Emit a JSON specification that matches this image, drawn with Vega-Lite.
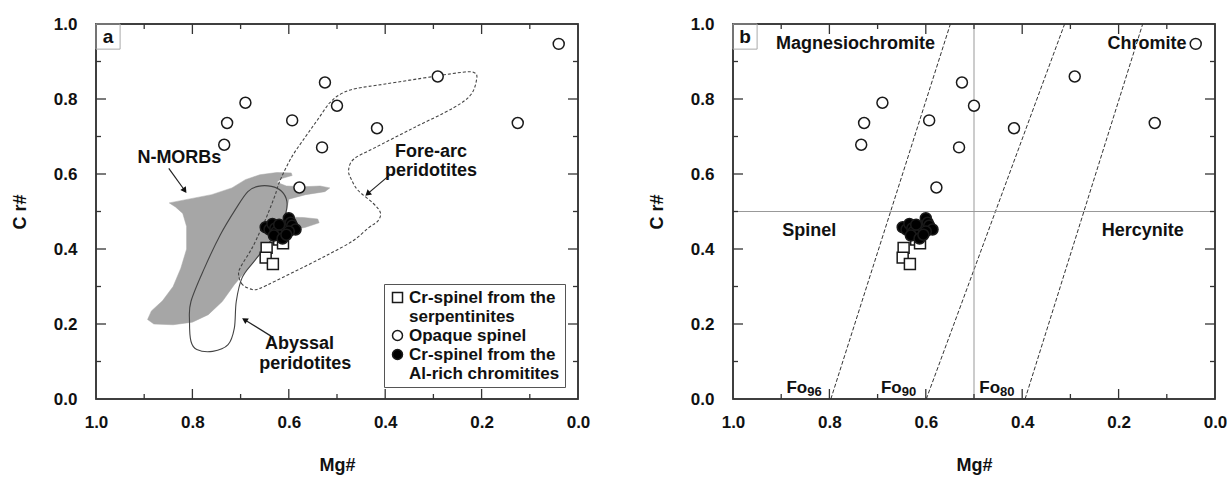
{
  "$schema": "https://vega.github.io/schema/vega-lite/v6.json",
  "padding": {"left": 10, "top": 14, "right": 0, "bottom": 0},
  "background": "white",
  "bounds": "flush",
  "spacing": 155,
  "config": {
    "font": "Liberation Sans",
    "view": {"stroke": "#333", "strokeWidth": 1.5},
    "axis": {"grid": false, "domain": false, "ticks": false, "labelFontSize": 17, "labelFontWeight": "bold", "labelColor": "#111", "titleFontSize": 18, "titleFontWeight": "bold", "titleColor": "#111", "format": ".1f", "labelFlush": false},
    "text": {"font": "Liberation Sans", "fontWeight": "bold", "fontSize": 18, "fill": "#111"}
  },
  "datasets": {
    "morb": [
      {"i": 1, "Mg": 0.848, "Cr": 0.523}, {"i": 2, "Mg": 0.8, "Cr": 0.535}, {"i": 3, "Mg": 0.76, "Cr": 0.545}, {"i": 4, "Mg": 0.718, "Cr": 0.563},
      {"i": 5, "Mg": 0.69, "Cr": 0.585}, {"i": 6, "Mg": 0.66, "Cr": 0.598}, {"i": 7, "Mg": 0.625, "Cr": 0.604}, {"i": 8, "Mg": 0.595, "Cr": 0.603},
      {"i": 9, "Mg": 0.593, "Cr": 0.596}, {"i": 10, "Mg": 0.615, "Cr": 0.588}, {"i": 11, "Mg": 0.625, "Cr": 0.578}, {"i": 12, "Mg": 0.605, "Cr": 0.568},
      {"i": 13, "Mg": 0.57, "Cr": 0.566}, {"i": 14, "Mg": 0.535, "Cr": 0.568}, {"i": 15, "Mg": 0.515, "Cr": 0.563}, {"i": 16, "Mg": 0.525, "Cr": 0.553},
      {"i": 17, "Mg": 0.565, "Cr": 0.545}, {"i": 18, "Mg": 0.6, "Cr": 0.533}, {"i": 19, "Mg": 0.605, "Cr": 0.5}, {"i": 20, "Mg": 0.6, "Cr": 0.485},
      {"i": 21, "Mg": 0.57, "Cr": 0.484}, {"i": 22, "Mg": 0.54, "Cr": 0.48}, {"i": 23, "Mg": 0.537, "Cr": 0.47}, {"i": 24, "Mg": 0.565, "Cr": 0.458},
      {"i": 25, "Mg": 0.605, "Cr": 0.447}, {"i": 26, "Mg": 0.625, "Cr": 0.425}, {"i": 27, "Mg": 0.66, "Cr": 0.385}, {"i": 28, "Mg": 0.69, "Cr": 0.34},
      {"i": 29, "Mg": 0.713, "Cr": 0.305}, {"i": 30, "Mg": 0.738, "Cr": 0.26}, {"i": 31, "Mg": 0.767, "Cr": 0.225}, {"i": 32, "Mg": 0.8, "Cr": 0.205},
      {"i": 33, "Mg": 0.84, "Cr": 0.198}, {"i": 34, "Mg": 0.88, "Cr": 0.2}, {"i": 35, "Mg": 0.893, "Cr": 0.212}, {"i": 36, "Mg": 0.885, "Cr": 0.235},
      {"i": 37, "Mg": 0.862, "Cr": 0.262}, {"i": 38, "Mg": 0.84, "Cr": 0.3}, {"i": 39, "Mg": 0.824, "Cr": 0.349}, {"i": 40, "Mg": 0.812, "Cr": 0.4},
      {"i": 41, "Mg": 0.812, "Cr": 0.46}, {"i": 42, "Mg": 0.82, "Cr": 0.495}, {"i": 43, "Mg": 0.835, "Cr": 0.512}
    ],
    "abyssal": [
      {"i": 1, "Mg": 0.664, "Cr": 0.567}, {"i": 2, "Mg": 0.636, "Cr": 0.567}, {"i": 3, "Mg": 0.615, "Cr": 0.554}, {"i": 4, "Mg": 0.604, "Cr": 0.527},
      {"i": 5, "Mg": 0.607, "Cr": 0.492}, {"i": 6, "Mg": 0.623, "Cr": 0.447}, {"i": 7, "Mg": 0.644, "Cr": 0.412}, {"i": 8, "Mg": 0.672, "Cr": 0.367},
      {"i": 9, "Mg": 0.697, "Cr": 0.323}, {"i": 10, "Mg": 0.709, "Cr": 0.26}, {"i": 11, "Mg": 0.713, "Cr": 0.189}, {"i": 12, "Mg": 0.726, "Cr": 0.145},
      {"i": 13, "Mg": 0.758, "Cr": 0.127}, {"i": 14, "Mg": 0.791, "Cr": 0.132}, {"i": 15, "Mg": 0.803, "Cr": 0.154}, {"i": 16, "Mg": 0.806, "Cr": 0.207},
      {"i": 17, "Mg": 0.803, "Cr": 0.26}, {"i": 18, "Mg": 0.775, "Cr": 0.349}, {"i": 19, "Mg": 0.742, "Cr": 0.438}, {"i": 20, "Mg": 0.709, "Cr": 0.509},
      {"i": 21, "Mg": 0.685, "Cr": 0.553}
    ],
    "forearc": [
      {"i": 1, "Mg": 0.676, "Cr": 0.292}, {"i": 2, "Mg": 0.696, "Cr": 0.305}, {"i": 3, "Mg": 0.704, "Cr": 0.33}, {"i": 4, "Mg": 0.7, "Cr": 0.352},
      {"i": 5, "Mg": 0.676, "Cr": 0.403}, {"i": 6, "Mg": 0.655, "Cr": 0.46}, {"i": 7, "Mg": 0.644, "Cr": 0.492}, {"i": 8, "Mg": 0.628, "Cr": 0.545},
      {"i": 9, "Mg": 0.619, "Cr": 0.58}, {"i": 10, "Mg": 0.595, "Cr": 0.643}, {"i": 11, "Mg": 0.565, "Cr": 0.7}, {"i": 12, "Mg": 0.54, "Cr": 0.745},
      {"i": 13, "Mg": 0.515, "Cr": 0.79}, {"i": 14, "Mg": 0.49, "Cr": 0.815}, {"i": 15, "Mg": 0.46, "Cr": 0.828}, {"i": 16, "Mg": 0.4, "Cr": 0.84},
      {"i": 17, "Mg": 0.3, "Cr": 0.86}, {"i": 18, "Mg": 0.235, "Cr": 0.872}, {"i": 19, "Mg": 0.215, "Cr": 0.87}, {"i": 20, "Mg": 0.21, "Cr": 0.855},
      {"i": 21, "Mg": 0.222, "Cr": 0.812}, {"i": 22, "Mg": 0.259, "Cr": 0.776}, {"i": 23, "Mg": 0.341, "Cr": 0.723}, {"i": 24, "Mg": 0.423, "Cr": 0.669},
      {"i": 25, "Mg": 0.465, "Cr": 0.64}, {"i": 26, "Mg": 0.476, "Cr": 0.61}, {"i": 27, "Mg": 0.47, "Cr": 0.585}, {"i": 28, "Mg": 0.456, "Cr": 0.556},
      {"i": 29, "Mg": 0.425, "Cr": 0.522}, {"i": 30, "Mg": 0.41, "Cr": 0.497}, {"i": 31, "Mg": 0.415, "Cr": 0.475}, {"i": 32, "Mg": 0.434, "Cr": 0.457},
      {"i": 33, "Mg": 0.468, "Cr": 0.421}, {"i": 34, "Mg": 0.517, "Cr": 0.386}, {"i": 35, "Mg": 0.572, "Cr": 0.35}, {"i": 36, "Mg": 0.627, "Cr": 0.315},
      {"i": 37, "Mg": 0.66, "Cr": 0.295}
    ],
    "pts": [
      {"type": "Cr-spinel from the serpentinites", "Mg": 0.62, "Cr": 0.425},
      {"type": "Cr-spinel from the serpentinites", "Mg": 0.646, "Cr": 0.403},
      {"type": "Cr-spinel from the serpentinites", "Mg": 0.648, "Cr": 0.377},
      {"type": "Cr-spinel from the serpentinites", "Mg": 0.633, "Cr": 0.36},
      {"type": "Cr-spinel from the serpentinites", "Mg": 0.612, "Cr": 0.415},
      {"type": "Opaque spinel", "Mg": 0.04, "Cr": 0.947},
      {"type": "Opaque spinel", "Mg": 0.291, "Cr": 0.86},
      {"type": "Opaque spinel", "Mg": 0.525, "Cr": 0.844},
      {"type": "Opaque spinel", "Mg": 0.69, "Cr": 0.79},
      {"type": "Opaque spinel", "Mg": 0.5, "Cr": 0.782},
      {"type": "Opaque spinel", "Mg": 0.728, "Cr": 0.736},
      {"type": "Opaque spinel", "Mg": 0.593, "Cr": 0.743},
      {"type": "Opaque spinel", "Mg": 0.417, "Cr": 0.722},
      {"type": "Opaque spinel", "Mg": 0.125, "Cr": 0.736},
      {"type": "Opaque spinel", "Mg": 0.734, "Cr": 0.678},
      {"type": "Opaque spinel", "Mg": 0.531, "Cr": 0.671},
      {"type": "Opaque spinel", "Mg": 0.578, "Cr": 0.564},
      {"type": "Cr-spinel from the Al-rich chromitites", "Mg": 0.648, "Cr": 0.458},
      {"type": "Cr-spinel from the Al-rich chromitites", "Mg": 0.64, "Cr": 0.452},
      {"type": "Cr-spinel from the Al-rich chromitites", "Mg": 0.634, "Cr": 0.467},
      {"type": "Cr-spinel from the Al-rich chromitites", "Mg": 0.628, "Cr": 0.455},
      {"type": "Cr-spinel from the Al-rich chromitites", "Mg": 0.626, "Cr": 0.445},
      {"type": "Cr-spinel from the Al-rich chromitites", "Mg": 0.617, "Cr": 0.437},
      {"type": "Cr-spinel from the Al-rich chromitites", "Mg": 0.631, "Cr": 0.436},
      {"type": "Cr-spinel from the Al-rich chromitites", "Mg": 0.613, "Cr": 0.428},
      {"type": "Cr-spinel from the Al-rich chromitites", "Mg": 0.606, "Cr": 0.457},
      {"type": "Cr-spinel from the Al-rich chromitites", "Mg": 0.6, "Cr": 0.482},
      {"type": "Cr-spinel from the Al-rich chromitites", "Mg": 0.596, "Cr": 0.47},
      {"type": "Cr-spinel from the Al-rich chromitites", "Mg": 0.593, "Cr": 0.462},
      {"type": "Cr-spinel from the Al-rich chromitites", "Mg": 0.586, "Cr": 0.452},
      {"type": "Cr-spinel from the Al-rich chromitites", "Mg": 0.6, "Cr": 0.447},
      {"type": "Cr-spinel from the Al-rich chromitites", "Mg": 0.605, "Cr": 0.438},
      {"type": "Cr-spinel from the Al-rich chromitites", "Mg": 0.62, "Cr": 0.465}
    ],
    "textA": [
      {"Mg": 0.827, "Cr": 0.643, "label": "N-MORBs"},
      {"Mg": 0.305, "Cr": 0.659, "label": "Fore-arc"},
      {"Mg": 0.305, "Cr": 0.607, "label": "peridotites"},
      {"Mg": 0.578, "Cr": 0.147, "label": "Abyssal"},
      {"Mg": 0.566, "Cr": 0.093, "label": "peridotites"}
    ],
    "arrowsA": [
      {"target": "N-MORBs", "Mg": 0.849, "Cr": 0.615, "Mg2": 0.817, "Cr2": 0.558},
      {"target": "Fore-arc", "Mg": 0.389, "Cr": 0.599, "Mg2": 0.435, "Cr2": 0.549},
      {"target": "Abyssal", "Mg": 0.636, "Cr": 0.167, "Mg2": 0.69, "Cr2": 0.21}
    ],
    "textB": [
      {"Mg": 0.746, "Cr": 0.948, "label": "Magnesiochromite"},
      {"Mg": 0.141, "Cr": 0.948, "label": "Chromite"},
      {"Mg": 0.842, "Cr": 0.447, "label": "Spinel"},
      {"Mg": 0.15, "Cr": 0.447, "label": "Hercynite"}
    ],
    "foLabels": [
      {"Mg": 0.846, "Cr": 0.03, "sub": "96"},
      {"Mg": 0.65, "Cr": 0.03, "sub": "90"},
      {"Mg": 0.446, "Cr": 0.03, "sub": "80"}
    ],
    "foLines": [
      {"line": "Fo96", "Mg": 0.797, "Cr": 0, "Mg2": 0.549, "Cr2": 1},
      {"line": "Fo90", "Mg": 0.599, "Cr": 0, "Mg2": 0.312, "Cr2": 1},
      {"line": "Fo80", "Mg": 0.394, "Cr": 0, "Mg2": 0.15, "Cr2": 1}
    ],
    "refLines": [
      {"Mg": 1, "Cr": 0.5, "Mg2": 0, "Cr2": 0.5},
      {"Mg": 0.5, "Cr": 0, "Mg2": 0.5, "Cr2": 1}
    ],
    "frame": [
      {"dir": "h", "Mg": 1, "Cr": 0, "Mg2": 0, "Cr2": 0},
      {"dir": "h", "Mg": 1, "Cr": 1, "Mg2": 0, "Cr2": 1},
      {"dir": "v", "Mg": 1, "Cr": 0, "Mg2": 1, "Cr2": 1},
      {"dir": "v", "Mg": 0, "Cr": 0, "Mg2": 0, "Cr2": 1}
    ],
    "ticks": [
      {"pos": 0.1, "kind": "minor"}, {"pos": 0.2, "kind": "major"}, {"pos": 0.3, "kind": "minor"}, {"pos": 0.4, "kind": "major"},
      {"pos": 0.5, "kind": "minor"}, {"pos": 0.6, "kind": "major"}, {"pos": 0.7, "kind": "minor"}, {"pos": 0.8, "kind": "major"},
      {"pos": 0.9, "kind": "minor"}
    ],
    "one": [{}]
  },
  "hconcat": [
    {
      "width": 482,
      "height": 375,
      "layer": [
        {
          "data": {"name": "morb"},
          "mark": {"type": "line", "interpolate": "linear-closed", "fill": "#a6a6a6", "stroke": "#a6a6a6", "strokeWidth": 0.5},
          "encoding": {
            "x": {"field": "Mg", "type": "quantitative", "scale": {"domain": [0, 1], "reverse": true, "nice": false},
              "axis": {"orient": "bottom", "values": [0, 0.2, 0.4, 0.6, 0.8, 1], "labelPadding": 15, "title": "Mg#", "titlePadding": 26}},
            "y": {"field": "Cr", "type": "quantitative", "scale": {"domain": [0, 1], "nice": false},
              "axis": {"orient": "left", "values": [0, 0.2, 0.4, 0.6, 0.8, 1], "labelPadding": 19, "title": "C r#", "titlePadding": 24}},
            "order": {"field": "i", "type": "quantitative"}
          }
        },
        {
          "data": {"name": "abyssal"},
          "mark": {"type": "line", "interpolate": "cardinal-closed", "stroke": "#444", "strokeWidth": 1.1},
          "encoding": {
            "x": {"field": "Mg", "type": "quantitative"},
            "y": {"field": "Cr", "type": "quantitative"},
            "order": {"field": "i", "type": "quantitative"}
          }
        },
        {
          "data": {"name": "forearc"},
          "mark": {"type": "line", "interpolate": "cardinal-closed", "stroke": "#444", "strokeWidth": 1.1, "strokeDash": [3, 2]},
          "encoding": {
            "x": {"field": "Mg", "type": "quantitative"},
            "y": {"field": "Cr", "type": "quantitative"},
            "order": {"field": "i", "type": "quantitative"}
          }
        },
        {
          "data": {"name": "frame"},
          "transform": [{"filter": "datum.dir == 'h'"}],
          "mark": {"type": "rect", "color": "#333", "opacity": 1, "xOffset": -0.75, "x2Offset": 0.75, "yOffset": -0.75, "y2Offset": 0.75},
          "encoding": {
            "x": {"field": "Mg", "type": "quantitative"},
            "y": {"field": "Cr", "type": "quantitative"},
            "x2": {"field": "Mg2"},
            "y2": {"field": "Cr2"}
          }
        },
        {
          "data": {"name": "frame"},
          "transform": [{"filter": "datum.dir == 'v'"}],
          "mark": {"type": "rect", "color": "#333", "opacity": 1, "xOffset": -0.75, "x2Offset": 0.75, "yOffset": -0.75, "y2Offset": 0.75},
          "encoding": {
            "x": {"field": "Mg", "type": "quantitative"},
            "y": {"field": "Cr", "type": "quantitative"},
            "x2": {"field": "Mg2"},
            "y2": {"field": "Cr2"}
          }
        },
        {
          "data": {"name": "ticks"},
          "transform": [{"filter": "datum.kind == 'major'"}],
          "layer": [
            {"mark": {"type": "rect", "color": "#333", "opacity": 1, "xOffset": -0.65, "x2Offset": 0.65, "y2Offset": -10},
             "encoding": {"x": {"field": "pos", "type": "quantitative"}, "x2": {"field": "pos"}, "y": {"datum": 0, "type": "quantitative"}, "y2": {"datum": 0}}},
            {"mark": {"type": "rect", "color": "#333", "opacity": 1, "xOffset": -0.65, "x2Offset": 0.65, "y2Offset": 10},
             "encoding": {"x": {"field": "pos", "type": "quantitative"}, "x2": {"field": "pos"}, "y": {"datum": 1, "type": "quantitative"}, "y2": {"datum": 1}}},
            {"mark": {"type": "rect", "color": "#333", "opacity": 1, "yOffset": -0.65, "y2Offset": 0.65, "x2Offset": 10},
             "encoding": {"y": {"field": "pos", "type": "quantitative"}, "y2": {"field": "pos"}, "x": {"datum": 1, "type": "quantitative"}, "x2": {"datum": 1}}},
            {"mark": {"type": "rect", "color": "#333", "opacity": 1, "yOffset": -0.65, "y2Offset": 0.65, "x2Offset": -10},
             "encoding": {"y": {"field": "pos", "type": "quantitative"}, "y2": {"field": "pos"}, "x": {"datum": 0, "type": "quantitative"}, "x2": {"datum": 0}}}
          ]
        },
        {
          "data": {"name": "ticks"},
          "transform": [{"filter": "datum.kind == 'minor'"}],
          "layer": [
            {"mark": {"type": "rect", "color": "#333", "opacity": 1, "xOffset": -0.65, "x2Offset": 0.65, "y2Offset": -5},
             "encoding": {"x": {"field": "pos", "type": "quantitative"}, "x2": {"field": "pos"}, "y": {"datum": 0, "type": "quantitative"}, "y2": {"datum": 0}}},
            {"mark": {"type": "rect", "color": "#333", "opacity": 1, "xOffset": -0.65, "x2Offset": 0.65, "y2Offset": 5},
             "encoding": {"x": {"field": "pos", "type": "quantitative"}, "x2": {"field": "pos"}, "y": {"datum": 1, "type": "quantitative"}, "y2": {"datum": 1}}},
            {"mark": {"type": "rect", "color": "#333", "opacity": 1, "yOffset": -0.65, "y2Offset": 0.65, "x2Offset": 5},
             "encoding": {"y": {"field": "pos", "type": "quantitative"}, "y2": {"field": "pos"}, "x": {"datum": 1, "type": "quantitative"}, "x2": {"datum": 1}}},
            {"mark": {"type": "rect", "color": "#333", "opacity": 1, "yOffset": -0.65, "y2Offset": 0.65, "x2Offset": -5},
             "encoding": {"y": {"field": "pos", "type": "quantitative"}, "y2": {"field": "pos"}, "x": {"datum": 0, "type": "quantitative"}, "x2": {"datum": 0}}}
          ]
        },
        {
          "data": {"name": "arrowsA"},
          "mark": {"type": "rule", "stroke": "#222", "strokeWidth": 1.2},
          "encoding": {
            "x": {"field": "Mg", "type": "quantitative"},
            "y": {"field": "Cr", "type": "quantitative"},
            "x2": {"field": "Mg2"},
            "y2": {"field": "Cr2"}
          }
        },
        {
          "data": {"name": "arrowsA"},
          "transform": [{"filter": "datum.target == 'N-MORBs'"}],
          "mark": {"type": "point", "shape": "triangle", "filled": true, "fill": "#111", "opacity": 1, "size": 45, "angle": 145},
          "encoding": {"x": {"field": "Mg2", "type": "quantitative"}, "y": {"field": "Cr2", "type": "quantitative"}}
        },
        {
          "data": {"name": "arrowsA"},
          "transform": [{"filter": "datum.target == 'Fore-arc'"}],
          "mark": {"type": "point", "shape": "triangle", "filled": true, "fill": "#111", "opacity": 1, "size": 45, "angle": 229},
          "encoding": {"x": {"field": "Mg2", "type": "quantitative"}, "y": {"field": "Cr2", "type": "quantitative"}}
        },
        {
          "data": {"name": "arrowsA"},
          "transform": [{"filter": "datum.target == 'Abyssal'"}],
          "mark": {"type": "point", "shape": "triangle", "filled": true, "fill": "#111", "opacity": 1, "size": 45, "angle": 302},
          "encoding": {"x": {"field": "Mg2", "type": "quantitative"}, "y": {"field": "Cr2", "type": "quantitative"}}
        },
        {
          "data": {"name": "textA"},
          "mark": {"type": "text", "align": "center", "baseline": "middle"},
          "encoding": {
            "x": {"field": "Mg", "type": "quantitative"},
            "y": {"field": "Cr", "type": "quantitative"},
            "text": {"field": "label"}
          }
        },
        {
          "data": {"name": "pts"},
          "mark": {"type": "point", "filled": true, "size": 120, "stroke": "#1a1a1a", "strokeWidth": 1.5, "opacity": 1},
          "encoding": {
            "x": {"field": "Mg", "type": "quantitative"},
            "y": {"field": "Cr", "type": "quantitative"},
            "shape": {"field": "type", "type": "nominal",
              "scale": {"domain": ["Cr-spinel from the serpentinites", "Opaque spinel", "Cr-spinel from the Al-rich chromitites"], "range": ["square", "circle", "circle"]},
              "legend": {"orient": "none", "legendX": 288, "legendY": 260, "title": null, "strokeColor": "#555", "fillColor": "white", "padding": 5, "labelFontSize": 17, "labelFontWeight": "bold", "labelColor": "#111", "labelLimit": 300, "symbolSize": 100, "labelOffset": 3, "rowPadding": 1,
                "encode": {"symbols": {"update": {"stroke": {"value": "#111"}, "strokeWidth": {"value": 1.5}, "opacity": {"value": 1}}}},
                "labelExpr": "datum.label == 'Cr-spinel from the serpentinites' ? ['Cr-spinel from the', 'serpentinites'] : datum.label == 'Cr-spinel from the Al-rich chromitites' ? ['Cr-spinel from the', 'Al-rich chromitites'] : datum.label"}},
            "fill": {"field": "type", "type": "nominal",
              "scale": {"domain": ["Cr-spinel from the serpentinites", "Opaque spinel", "Cr-spinel from the Al-rich chromitites"], "range": ["white", "white", "#000"]},
              "legend": {"orient": "none", "legendX": 288, "legendY": 260, "title": null, "strokeColor": "#555", "fillColor": "white", "padding": 5, "labelFontSize": 17, "labelFontWeight": "bold", "labelColor": "#111", "labelLimit": 300, "symbolSize": 100, "labelOffset": 3, "rowPadding": 1,
                "encode": {"symbols": {"update": {"stroke": {"value": "#111"}, "strokeWidth": {"value": 1.5}, "opacity": {"value": 1}}}},
                "labelExpr": "datum.label == 'Cr-spinel from the serpentinites' ? ['Cr-spinel from the', 'serpentinites'] : datum.label == 'Cr-spinel from the Al-rich chromitites' ? ['Cr-spinel from the', 'Al-rich chromitites'] : datum.label"}}
          }
        },
        {
          "data": {"name": "one"},
          "mark": {"type": "rect", "fillOpacity": 0, "stroke": "#aaa", "strokeWidth": 1},
          "encoding": {
            "x": {"datum": 1, "type": "quantitative"},
            "x2": {"datum": 0.95},
            "y": {"datum": 1, "type": "quantitative"},
            "y2": {"datum": 0.933}
          }
        },
        {
          "data": {"name": "one"},
          "mark": {"type": "text", "text": "a", "fontSize": 19, "align": "center", "baseline": "middle"},
          "encoding": {
            "x": {"datum": 0.975, "type": "quantitative"},
            "y": {"datum": 0.966, "type": "quantitative"}
          }
        }
      ]
    },
    {
      "width": 482,
      "height": 375,
      "layer": [
        {
          "data": {"name": "foLines"},
          "mark": {"type": "rule", "stroke": "#333", "strokeWidth": 1, "strokeDash": [4, 2]},
          "encoding": {
            "x": {"field": "Mg", "type": "quantitative", "scale": {"domain": [0, 1], "reverse": true, "nice": false},
              "axis": {"orient": "bottom", "values": [0, 0.2, 0.4, 0.6, 0.8, 1], "labelPadding": 15, "title": "Mg#", "titlePadding": 26}},
            "y": {"field": "Cr", "type": "quantitative", "scale": {"domain": [0, 1], "nice": false},
              "axis": {"orient": "left", "values": [0, 0.2, 0.4, 0.6, 0.8, 1], "labelPadding": 19, "title": "C r#", "titlePadding": 24}},
            "x2": {"field": "Mg2"},
            "y2": {"field": "Cr2"}
          }
        },
        {
          "data": {"name": "refLines"},
          "mark": {"type": "rule", "stroke": "#999", "strokeWidth": 1},
          "encoding": {
            "x": {"field": "Mg", "type": "quantitative"},
            "y": {"field": "Cr", "type": "quantitative"},
            "x2": {"field": "Mg2"},
            "y2": {"field": "Cr2"}
          }
        },
        {
          "data": {"name": "frame"},
          "transform": [{"filter": "datum.dir == 'h'"}],
          "mark": {"type": "rect", "color": "#333", "opacity": 1, "xOffset": -0.75, "x2Offset": 0.75, "yOffset": -0.75, "y2Offset": 0.75},
          "encoding": {
            "x": {"field": "Mg", "type": "quantitative"},
            "y": {"field": "Cr", "type": "quantitative"},
            "x2": {"field": "Mg2"},
            "y2": {"field": "Cr2"}
          }
        },
        {
          "data": {"name": "frame"},
          "transform": [{"filter": "datum.dir == 'v'"}],
          "mark": {"type": "rect", "color": "#333", "opacity": 1, "xOffset": -0.75, "x2Offset": 0.75, "yOffset": -0.75, "y2Offset": 0.75},
          "encoding": {
            "x": {"field": "Mg", "type": "quantitative"},
            "y": {"field": "Cr", "type": "quantitative"},
            "x2": {"field": "Mg2"},
            "y2": {"field": "Cr2"}
          }
        },
        {
          "data": {"name": "ticks"},
          "transform": [{"filter": "datum.kind == 'major'"}],
          "layer": [
            {"mark": {"type": "rect", "color": "#333", "opacity": 1, "xOffset": -0.65, "x2Offset": 0.65, "y2Offset": -10},
             "encoding": {"x": {"field": "pos", "type": "quantitative"}, "x2": {"field": "pos"}, "y": {"datum": 0, "type": "quantitative"}, "y2": {"datum": 0}}},
            {"mark": {"type": "rect", "color": "#333", "opacity": 1, "xOffset": -0.65, "x2Offset": 0.65, "y2Offset": 10},
             "encoding": {"x": {"field": "pos", "type": "quantitative"}, "x2": {"field": "pos"}, "y": {"datum": 1, "type": "quantitative"}, "y2": {"datum": 1}}},
            {"mark": {"type": "rect", "color": "#333", "opacity": 1, "yOffset": -0.65, "y2Offset": 0.65, "x2Offset": 10},
             "encoding": {"y": {"field": "pos", "type": "quantitative"}, "y2": {"field": "pos"}, "x": {"datum": 1, "type": "quantitative"}, "x2": {"datum": 1}}},
            {"mark": {"type": "rect", "color": "#333", "opacity": 1, "yOffset": -0.65, "y2Offset": 0.65, "x2Offset": -10},
             "encoding": {"y": {"field": "pos", "type": "quantitative"}, "y2": {"field": "pos"}, "x": {"datum": 0, "type": "quantitative"}, "x2": {"datum": 0}}}
          ]
        },
        {
          "data": {"name": "ticks"},
          "transform": [{"filter": "datum.kind == 'minor'"}],
          "layer": [
            {"mark": {"type": "rect", "color": "#333", "opacity": 1, "xOffset": -0.65, "x2Offset": 0.65, "y2Offset": -5},
             "encoding": {"x": {"field": "pos", "type": "quantitative"}, "x2": {"field": "pos"}, "y": {"datum": 0, "type": "quantitative"}, "y2": {"datum": 0}}},
            {"mark": {"type": "rect", "color": "#333", "opacity": 1, "xOffset": -0.65, "x2Offset": 0.65, "y2Offset": 5},
             "encoding": {"x": {"field": "pos", "type": "quantitative"}, "x2": {"field": "pos"}, "y": {"datum": 1, "type": "quantitative"}, "y2": {"datum": 1}}},
            {"mark": {"type": "rect", "color": "#333", "opacity": 1, "yOffset": -0.65, "y2Offset": 0.65, "x2Offset": 5},
             "encoding": {"y": {"field": "pos", "type": "quantitative"}, "y2": {"field": "pos"}, "x": {"datum": 1, "type": "quantitative"}, "x2": {"datum": 1}}},
            {"mark": {"type": "rect", "color": "#333", "opacity": 1, "yOffset": -0.65, "y2Offset": 0.65, "x2Offset": -5},
             "encoding": {"y": {"field": "pos", "type": "quantitative"}, "y2": {"field": "pos"}, "x": {"datum": 0, "type": "quantitative"}, "x2": {"datum": 0}}}
          ]
        },
        {
          "data": {"name": "textB"},
          "mark": {"type": "text", "align": "center", "baseline": "middle"},
          "encoding": {
            "x": {"field": "Mg", "type": "quantitative"},
            "y": {"field": "Cr", "type": "quantitative"},
            "text": {"field": "label"}
          }
        },
        {
          "data": {"name": "foLabels"},
          "mark": {"type": "text", "text": "Fo", "align": "right", "baseline": "middle", "fontSize": 17},
          "encoding": {
            "x": {"field": "Mg", "type": "quantitative"},
            "y": {"field": "Cr", "type": "quantitative"}
          }
        },
        {
          "data": {"name": "foLabels"},
          "mark": {"type": "text", "align": "left", "baseline": "middle", "fontSize": 13, "dy": 4},
          "encoding": {
            "x": {"field": "Mg", "type": "quantitative"},
            "y": {"field": "Cr", "type": "quantitative"},
            "text": {"field": "sub"}
          }
        },
        {
          "data": {"name": "pts"},
          "mark": {"type": "point", "filled": true, "size": 120, "stroke": "#1a1a1a", "strokeWidth": 1.5, "opacity": 1},
          "encoding": {
            "x": {"field": "Mg", "type": "quantitative"},
            "y": {"field": "Cr", "type": "quantitative"},
            "shape": {"field": "type", "type": "nominal",
              "scale": {"domain": ["Cr-spinel from the serpentinites", "Opaque spinel", "Cr-spinel from the Al-rich chromitites"], "range": ["square", "circle", "circle"]},
              "legend": null},
            "fill": {"field": "type", "type": "nominal",
              "scale": {"domain": ["Cr-spinel from the serpentinites", "Opaque spinel", "Cr-spinel from the Al-rich chromitites"], "range": ["white", "white", "#000"]},
              "legend": null}
          }
        },
        {
          "data": {"name": "one"},
          "mark": {"type": "rect", "fillOpacity": 0, "stroke": "#aaa", "strokeWidth": 1},
          "encoding": {
            "x": {"datum": 1, "type": "quantitative"},
            "x2": {"datum": 0.95},
            "y": {"datum": 1, "type": "quantitative"},
            "y2": {"datum": 0.933}
          }
        },
        {
          "data": {"name": "one"},
          "mark": {"type": "text", "text": "b", "fontSize": 19, "align": "center", "baseline": "middle"},
          "encoding": {
            "x": {"datum": 0.975, "type": "quantitative"},
            "y": {"datum": 0.966, "type": "quantitative"}
          }
        }
      ]
    }
  ]
}
